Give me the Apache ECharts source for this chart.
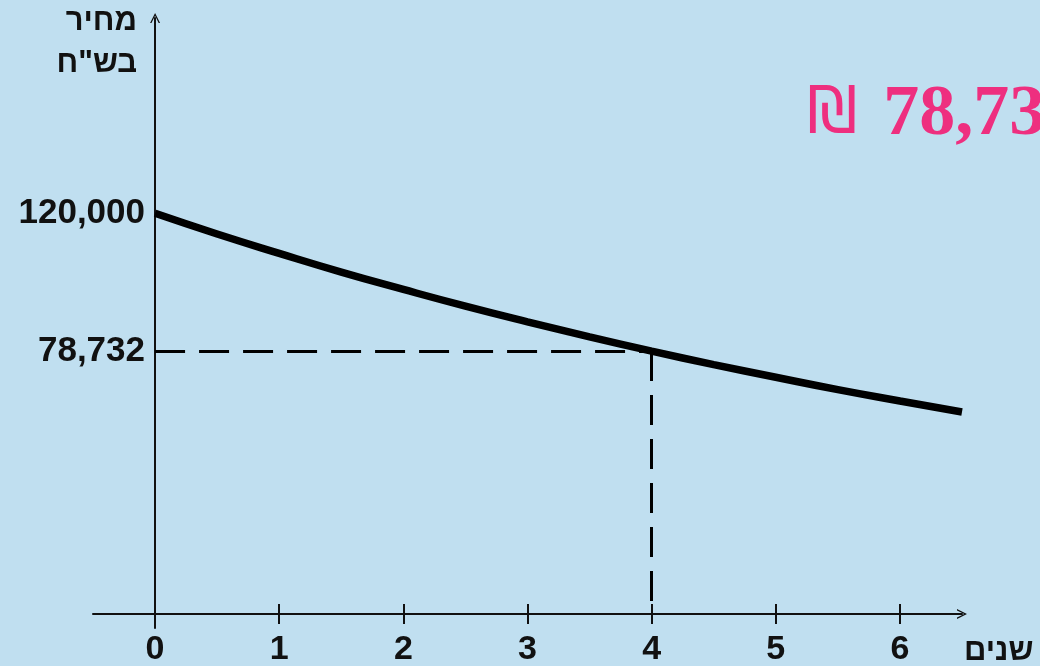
<!DOCTYPE html>
<html>
<head>
<meta charset="utf-8">
<script src="https://cdn.jsdelivr.net/npm/echarts@6/dist/echarts.min.js"></script>
<style>
	html, body { margin: 0; padding: 0; background: #c0dff0; }
	#chart { width: 1040px; height: 666px; }
</style>
</head>
<body>
<div id="chart"></div>
<script>
// years and price (shekels)
const years = [0, 0.5, 1, 1.5, 2, 2.5, 3, 3.5, 4, 4.5, 5, 5.5, 6, 6.5]
const prices = [120000, 113800, 108000, 102400, 97200, 92200, 87500, 83000, 78732, 74700, 70900, 67200, 63800, 60500]
const xTicks = [0, 1, 2, 3, 4, 5, 6]
const yTickLabels = [120000, 78732]
const markYear = 4
const markPrice = 78732

const font = '"Liberation Sans", Arial, sans-serif'
const ink = '#111'
const pink = '#ee2f7f'
const chevron = 'path://M0,10 L5,0 L10,10 L8.6,10 L5,2.8 L1.4,10 Z'

const chart = echarts.init(document.getElementById('chart'))

chart.setOption({
	backgroundColor: '#c0dff0',
	animation: false,
	title: {
		text: '{s|₪}{n|78,732}',
		left: 802,
		top: 74,
		textStyle: {
			rich: {
				s: { color: pink, fontSize: 64, fontWeight: 'normal', fontFamily: '"DejaVu Sans", sans-serif', padding: [0, 26, 0, 0] },
				n: { color: pink, fontSize: 72, fontWeight: 'bold', fontFamily: '"Liberation Serif", "DejaVu Serif", serif' },
			},
		},
	},
	grid: [
		{ left: 93, right: 78, top: 18, bottom: 38, containLabel: false, outerBoundsMode: 'none' },
		// same plot area, ending at the zero line: carries the upper halves of the x ticks
		{ left: 93, right: 78, top: 18, bottom: 52, containLabel: false, outerBoundsMode: 'none' },
	],
	xAxis: [
		{
			type: 'value',
			min: -0.5,
			max: 6.5,
			interval: 0.5,
			name: 'שנים',
			nameLocation: 'end',
			nameGap: 2,
			nameTextStyle: { color: ink, fontSize: 31, fontWeight: 'bold', fontFamily: font, align: 'left', verticalAlign: 'top', padding: [22, 0, 0, 0] },
			axisLine: { onZero: true, symbol: ['none', chevron], symbolSize: [10, 10], lineStyle: { color: ink, width: 2 } },
			axisTick: { customValues: xTicks, length: 10, lineStyle: { color: ink, width: 2 } },
			axisLabel: { customValues: xTicks, margin: 5, color: ink, fontSize: 34, fontWeight: 'bold', fontFamily: font },
			splitLine: { show: false },
		},
		{
			gridIndex: 1,
			type: 'value',
			min: -0.5,
			max: 6.5,
			interval: 0.5,
			axisLine: { show: false },
			axisTick: { customValues: xTicks, inside: true, length: 10, lineStyle: { color: ink, width: 2 } },
			axisLabel: { show: false },
			splitLine: { show: false },
		},
	],
	yAxis: [
		{
			type: 'value',
			min: -4200,
			max: 178500,
			name: 'מחיר\nבש"ח',
			nameLocation: 'end',
			nameGap: 18,
			nameTextStyle: { color: ink, fontSize: 31, fontWeight: 'bold', fontFamily: font, align: 'right', verticalAlign: 'top', lineHeight: 42, padding: [0, 18, 0, 0] },
			axisLine: { onZero: true, symbol: ['none', chevron], symbolSize: [10, 10], lineStyle: { color: ink, width: 2 } },
			axisTick: { show: false },
			axisLabel: {
				customValues: yTickLabels,
				margin: -52,
				padding: [8, 0, 0, 0],
				color: ink,
				fontSize: 35,
				fontWeight: 'bold',
				fontFamily: font,
				formatter: (v) => v.toLocaleString('en-US'),
			},
			splitLine: { show: false },
		},
		{ gridIndex: 1, type: 'value', show: false },
	],
	series: [
		{
			type: 'line',
			data: years.map((t, i) => [t, prices[i]]),
			smooth: true,
			showSymbol: false,
			lineStyle: { color: '#000', width: 7.5 },
			markLine: {
				silent: true,
				symbol: 'none',
				label: { show: false },
				lineStyle: { color: '#000', width: 3, type: [30, 14] },
				data: [
					[{ coord: [0, markPrice] }, { coord: [markYear, markPrice] }],
					[{ coord: [markYear, markPrice] }, { coord: [markYear, 0] }],
				],
			},
		},
	],
})
</script>
</body>
</html>
